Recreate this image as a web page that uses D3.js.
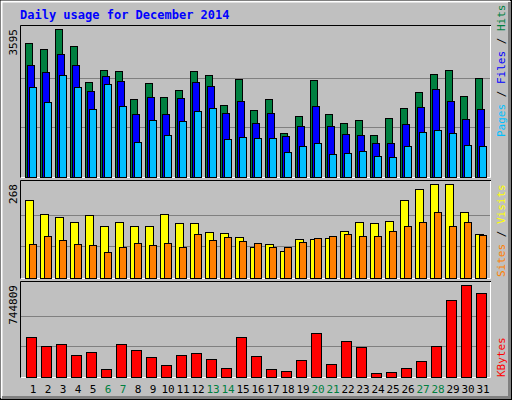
<!DOCTYPE html>
<html>
<head>
<meta charset="utf-8">
<script src="https://cdn.jsdelivr.net/npm/d3@7"></script>
<style>
  body { margin: 0; background: #fff; }
  text { font-family: "DejaVu Sans Mono", monospace; }
</style>
</head>
<body>
<div id="chart"></div>
<script>
// Daily values
const days = d3.range(1, 32);
const weekendDays = [6, 7, 13, 14, 20, 21, 27, 28];
const hits = [3254, 3107, 3595, 3180, 2302, 2595, 2571, 1888, 2278, 1937, 2107, 2571, 2473, 1741, 2376, 1620,
  1888, 1059, 1473, 2351, 1522, 1302, 1376, 1010, 1424, 1668, 2059, 2498, 2595, 1961, 2400];
const files = [2717, 2546, 2985, 2717, 2083, 2449, 2327, 1522, 1937, 1522, 1912, 2302, 2205, 1546, 1839, 1302,
  1546, 985, 1229, 1717, 1229, 1034, 1010, 815, 815, 1278, 1693, 2132, 1839, 1400, 1644];
const pages = [2180, 1815, 2473, 2180, 1644, 2254, 1717, 839, 1376, 1010, 1351, 1595, 1668, 912, 961, 937,
  937, 595, 741, 815, 546, 571, 620, 498, 473, 741, 1083, 1132, 1059, 766, 741];
const visits = [221, 181, 172, 160, 178, 149, 160, 149, 149, 181, 157, 155, 131, 128, 117, 88,
  97, 76, 111, 111, 114, 134, 160, 155, 163, 221, 253, 268, 268, 189, 126];
const sites = [97, 120, 108, 97, 94, 73, 88, 99, 94, 99, 88, 126, 108, 117, 105, 99,
  88, 88, 102, 114, 120, 126, 120, 120, 134, 149, 160, 189, 149, 160, 123];
const kbytes = [321000, 247000, 264000, 174000, 198000, 60000, 264000, 215000, 158000, 92000, 174000, 190000,
  141000, 68000, 321000, 166000, 60000, 43000, 133000, 353000, 101000, 288000, 239000, 27000, 35000, 68000,
  125000, 247000, 623000, 744809, 680000];

const W = 512, H = 400;
const svg = d3.select('#chart').append('svg')
    .attr('width', W).attr('height', H);

// Outer frame with bevel
svg.append('rect').attr('x', 0).attr('y', 0).attr('width', W).attr('height', H).attr('fill', '#c0c0c0');
svg.append('rect').attr('x', 0.5).attr('y', 0.5).attr('width', W - 1).attr('height', H - 1)
    .attr('fill', 'none').attr('stroke', '#000');
svg.append('path').attr('d', `M1.5,${H - 2}V1.5H${W - 2}`).attr('fill', 'none').attr('stroke', '#fff').attr('stroke-width', 2);
svg.append('path').attr('d', `M2,${H - 2.5}H${W - 2.5}V2`).attr('fill', 'none').attr('stroke', '#808080').attr('stroke-width', 3);

svg.append('text').attr('x', 20).attr('y', 19)
    .attr('fill', '#0000ff').style('font-size', '12px').style('font-weight', 'bold')
    .text('Daily usage for December 2014');

const x = d3.scaleBand().domain(days).range([25, 490]);
const left = 20, right = 491;

function panel(top, bottom, max, label) {
  const y = d3.scaleLinear().domain([0, max]).range([bottom - 0.5, top + 4]);
  const g = svg.append('g');
  // grid
  [1 / 3, 2 / 3].forEach(f => {
    g.append('line').attr('x1', left + 1).attr('x2', right - 1)
      .attr('y1', Math.round(y(max * f)) + 0.5).attr('y2', Math.round(y(max * f)) + 0.5)
      .attr('stroke', '#808080');
  });
  g.append('path').attr('d', `M${left + 0.5},${bottom + 0.5}V${top + 0.5}H${right}`)
    .attr('fill', 'none').attr('stroke', '#000');
  g.append('path').attr('d', `M${left + 1},${bottom + 0.5}H${right - 0.5}V${top + 1}`)
    .attr('fill', 'none').attr('stroke', '#fff');
  g.append('text').attr('transform', `translate(17,${top + 4}) rotate(-90)`)
    .attr('text-anchor', 'end').style('font-size', '11px').attr('fill', '#000').text(label);
  return { g, y };
}

function bars(p, values, offset, width, color) {
  p.g.selectAll(null).data(days).join('rect')
    .attr('x', d => x(d) + offset + 0.5)
    .attr('y', (d, i) => Math.round(p.y(values[i])) + 0.5)
    .attr('width', width)
    .attr('height', (d, i) => Math.max(0, Math.round(p.y(0)) - Math.round(p.y(values[i]))))
    .attr('fill', color).attr('stroke', '#000');
}

const p1 = panel(25, 177, 3595, '3595');
bars(p1, hits, 0, 7, '#008040');
bars(p1, files, 2, 7, '#0000ff');
bars(p1, pages, 4, 7, '#00c0ff');

const p2 = panel(180, 278, 268, '268');
bars(p2, visits, 0, 8, '#ffff00');
bars(p2, sites, 4, 7, '#ff8000');

const p3 = panel(281, 377, 744809, '744809');
bars(p3, kbytes, 1, 10, '#ff0000');

// day labels
svg.selectAll('.day').data(days).join('text')
    .attr('x', d => x(d) + 8).attr('y', 393)
    .attr('text-anchor', 'middle').style('font-size', '11px')
    .attr('fill', d => weekendDays.includes(d) ? '#008040' : '#000')
    .text(d => d);

// right-side legends, reading bottom to top
function legend(yBottom, parts) {
  const t = svg.append('text').attr('transform', `translate(505,${yBottom}) rotate(-90)`)
    .style('font-size', '11px');
  parts.forEach(([s, c]) => t.append('tspan').attr('fill', c).text(s));
}
legend(137, [['Pages', '#00c0ff'], [' / ', '#000'], ['Files', '#0000ff'], [' / ', '#000'], ['Hits', '#008040']]);
legend(277, [['Sites', '#ff8000'], [' / ', '#000'], ['Visits', '#ffff00']]);
legend(377, [['KBytes', '#ff0000']]);
</script>
</body>
</html>
